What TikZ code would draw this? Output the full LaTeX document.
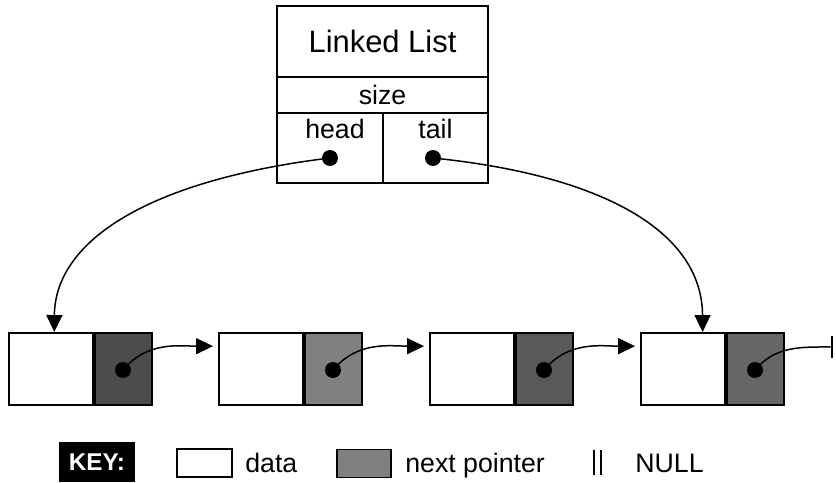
\documentclass[tikz,border=0pt]{standalone}
\usepackage{fontspec}
\setmainfont{Liberation Sans}
\usetikzlibrary{arrows.meta}

\newcommand{\txtfont}{\fontsize{15.2}{18}\selectfont}
\newcommand{\ttlfont}{\fontsize{17.6}{21}\selectfont}
\newcommand{\keyfont}{\fontsize{13.8}{16}\selectfont\bfseries}

\tikzset{
  box/.style={draw, line width=1.1pt, inner sep=0pt, font=\txtfont},
  dot/.style={circle, fill=black, inner sep=0pt, minimum size=0.32cm},
  link/.style={line width=0.85pt, -{Triangle[length=0.34cm, width=0.32cm]}},
  txt/.style={anchor=base west, inner sep=0pt, font=\txtfont},
}

\begin{document}
\begin{tikzpicture}[x=0.02cm, y=-0.02cm]
  \useasboundingbox (0,0) rectangle (836,483);

  % list header
  \node[box, minimum width=4.22cm, minimum height=1.42cm, font=\ttlfont] (title) at (382.5,41.5) {Linked List};
  \node[box, minimum width=4.22cm, minimum height=0.72cm] (size) at (382.5,95) {size};
  \node[box, minimum width=2.12cm, minimum height=1.4cm,
        label={[anchor=north, inner sep=0pt, yshift=-0.14cm, xshift=0.1cm, font=\txtfont]north:head}] (head) at (330,148) {};
  \node[box, minimum width=2.1cm, minimum height=1.4cm,
        label={[anchor=north, inner sep=0pt, yshift=-0.14cm, font=\txtfont]north:tail}] (tail) at (435.5,148) {};
  \node[dot] (hd) at (330,158) {};
  \node[dot] (tl) at (433,158) {};

  % the four list nodes
  \foreach \i/\x/\g in {1/9/70,2/219/50,3/430/65,4/641/60}{
    \node[box, minimum width=1.68cm, minimum height=1.44cm] (dat\i) at (\x+42,369) {};
    \node[box, fill=black!\g, minimum width=1.14cm, minimum height=1.44cm, anchor=west] (ptr\i) at (dat\i.east) {};
    \node[dot] (d\i) at (\x+114,370) {};
  }
  \foreach \i/\j in {1/2,2/3,3/4}
    \draw[link, shorten >=0.1cm] (d\i.center) to[out=50, in=180] (dat\j.152);

  % last next pointer is NULL
  \coordinate (nil) at (833,347);
  \draw[line width=0.85pt, -{Bar[width=0.44cm, line width=1.1pt]}] (d4.center) to[out=50, in=180] (nil);

  % head and tail pointers
  \draw[link] (hd.center) .. controls (150,180) and (55,240) .. (dat1.85);
  \draw[link] (tl.center) .. controls (600,175) and (702,230) .. (dat4.62);

  % key
  \node[fill=black, text=white, font=\keyfont, inner sep=0pt, minimum width=1.52cm, minimum height=0.8cm] (key) at (97,462) {KEY:};
  \node[box, minimum width=1.1cm, minimum height=0.56cm] (kdat) at (204.5,463) {};
  \node[txt] (kdatlbl) at (245,472) {data};
  \node[box, fill=black!50, minimum width=1.08cm, minimum height=0.56cm] (kptr) at (364,463.5) {};
  \node[txt] (kptrlbl) at (405,472) {next pointer};
  \draw[line width=1.2pt] (594,450) -- (594,475) (601,450) -- (601,475);
  \node[txt] (knull) at (635,472) {NULL};
\end{tikzpicture}
\end{document}
